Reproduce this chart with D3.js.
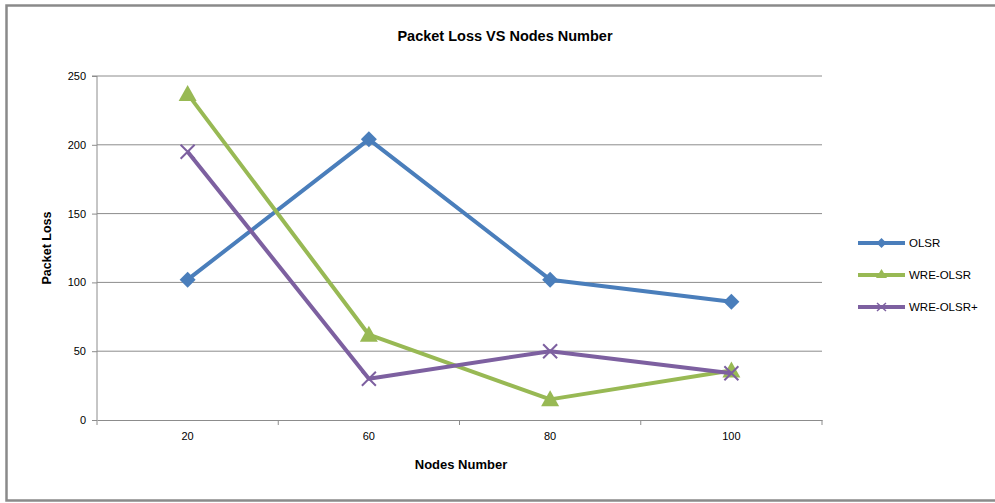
<!DOCTYPE html>
<html><head><meta charset="utf-8">
<script src="https://cdn.jsdelivr.net/npm/d3@7"></script>
<style>body{margin:0;background:#fff}svg{display:block}text{font-family:"Liberation Sans",Arial,sans-serif;fill:#000}</style>
</head><body><svg id="c" width="995" height="503"></svg>
<script>
const categories = ["20","60","80","100"];
const seriesNames = ["OLSR","WRE-OLSR","WRE-OLSR+"];
const olsr = [102,204,102,86];
const wreOlsr = [237,62,15,36];
const wreOlsrPlus = [195,30,50,34];
const yTicks = [0,50,100,150,200,250];
const colors = ["#4A7EBB","#98B954","#7D60A0"];
const series = [olsr, wreOlsr, wreOlsrPlus];

const svg = d3.select("#c");
// frame
svg.append("rect").attr("x",6.5).attr("y",5.5).attr("width",1000).attr("height",495)
  .attr("fill","#fff").attr("stroke","#8a8a8a").attr("stroke-width",2.5);

const L=97,R=822,T=76,B=420;
const x = d3.scaleBand().domain(categories).range([L,R]);
const y = d3.scaleLinear().domain([0,250]).range([B,T]);

// grid
svg.append("g").selectAll("line").data(yTicks.filter(d=>d>0)).join("line")
  .attr("x1",L).attr("x2",R).attr("y1",d=>y(d)).attr("y2",d=>y(d))
  .attr("stroke","#8c8c8c").attr("stroke-width",1);

// y axis
const ya = svg.append("g").attr("transform",`translate(${L},0)`)
  .call(d3.axisLeft(y).tickValues(yTicks).tickSize(5).tickPadding(6));
ya.select(".domain").attr("stroke","#8c8c8c").attr("d",`M-5,${T}H0V${B}`);
ya.selectAll(".tick line").attr("stroke","#8c8c8c");
ya.selectAll(".tick text").attr("font-size",11).attr("fill","#333").attr("font-family","Liberation Sans, Arial, sans-serif");

// x axis
const xa = svg.append("g").attr("transform",`translate(0,${B})`)
  .call(d3.axisBottom(x).tickSize(0).tickPadding(12));
xa.select(".domain").attr("stroke","#8c8c8c");
xa.selectAll(".tick text").attr("font-size",11).attr("fill","#333").attr("font-family","Liberation Sans, Arial, sans-serif");
const bounds = categories.map(c=>x(c)).concat([R]);
xa.append("g").selectAll("line").data(bounds).join("line")
  .attr("x1",d=>d).attr("x2",d=>d).attr("y1",0).attr("y2",5).attr("stroke","#8c8c8c");

// title and axis titles
svg.append("text").attr("x",505).attr("y",41).attr("text-anchor","middle")
  .attr("font-size",14.5).attr("font-weight","bold").text("Packet Loss VS Nodes Number");
svg.append("text").attr("x",461).attr("y",469).attr("text-anchor","middle")
  .attr("font-size",13).attr("font-weight","bold").text("Nodes Number");
svg.append("text").attr("transform","translate(51,248) rotate(-90)").attr("text-anchor","middle")
  .attr("font-size",12.5).attr("font-weight","bold").text("Packet Loss");

const line = d3.line().x((d,i)=>x(categories[i])+x.bandwidth()/2).y(d=>y(d));

function marker(g, type, cx, cy, col){
  if(type===0){
    g.append("path").attr("d",`M${cx},${cy-8}L${cx+8},${cy}L${cx},${cy+8}L${cx-8},${cy}Z`).attr("fill",col);
  } else if(type===1){
    g.append("path").attr("d",`M${cx},${cy-9}L${cx+9},${cy+7}L${cx-9},${cy+7}Z`).attr("fill",col);
  } else {
    g.append("path").attr("d",`M${cx-7},${cy-7}L${cx+7},${cy+7}M${cx-7},${cy+7}L${cx+7},${cy-7}`)
      .attr("stroke",col).attr("stroke-width",2);
  }
}

series.forEach((vals,si)=>{
  svg.append("path").datum(vals).attr("d",line).attr("fill","none")
    .attr("stroke",colors[si]).attr("stroke-width",4).attr("stroke-linejoin","round");
  const g = svg.append("g");
  vals.forEach((v,i)=>marker(g, si, x(categories[i])+x.bandwidth()/2, y(v), colors[si]));
});

// legend
const leg = svg.append("g");
seriesNames.forEach((n,i)=>{
  const ly = 243 + i*32;
  leg.append("line").attr("x1",858).attr("x2",905).attr("y1",ly).attr("y2",ly)
    .attr("stroke",colors[i]).attr("stroke-width",4);
  const g = leg.append("g");
  if(i===0) g.append("path").attr("d",`M881.5,${ly-5}L886.5,${ly}L881.5,${ly+5}L876.5,${ly}Z`).attr("fill",colors[i]);
  else if(i===1) g.append("path").attr("d",`M881.5,${ly-6}L887,${ly+3}L876,${ly+3}Z`).attr("fill",colors[i]);
  else g.append("path").attr("d",`M877,${ly-4}L886,${ly+4}M877,${ly+4}L886,${ly-4}`).attr("stroke",colors[i]).attr("stroke-width",1.5);
  leg.append("text").attr("x",909).attr("y",ly+4).attr("font-size",11.5).attr("fill","#222").text(n);
});
</script></body></html>
